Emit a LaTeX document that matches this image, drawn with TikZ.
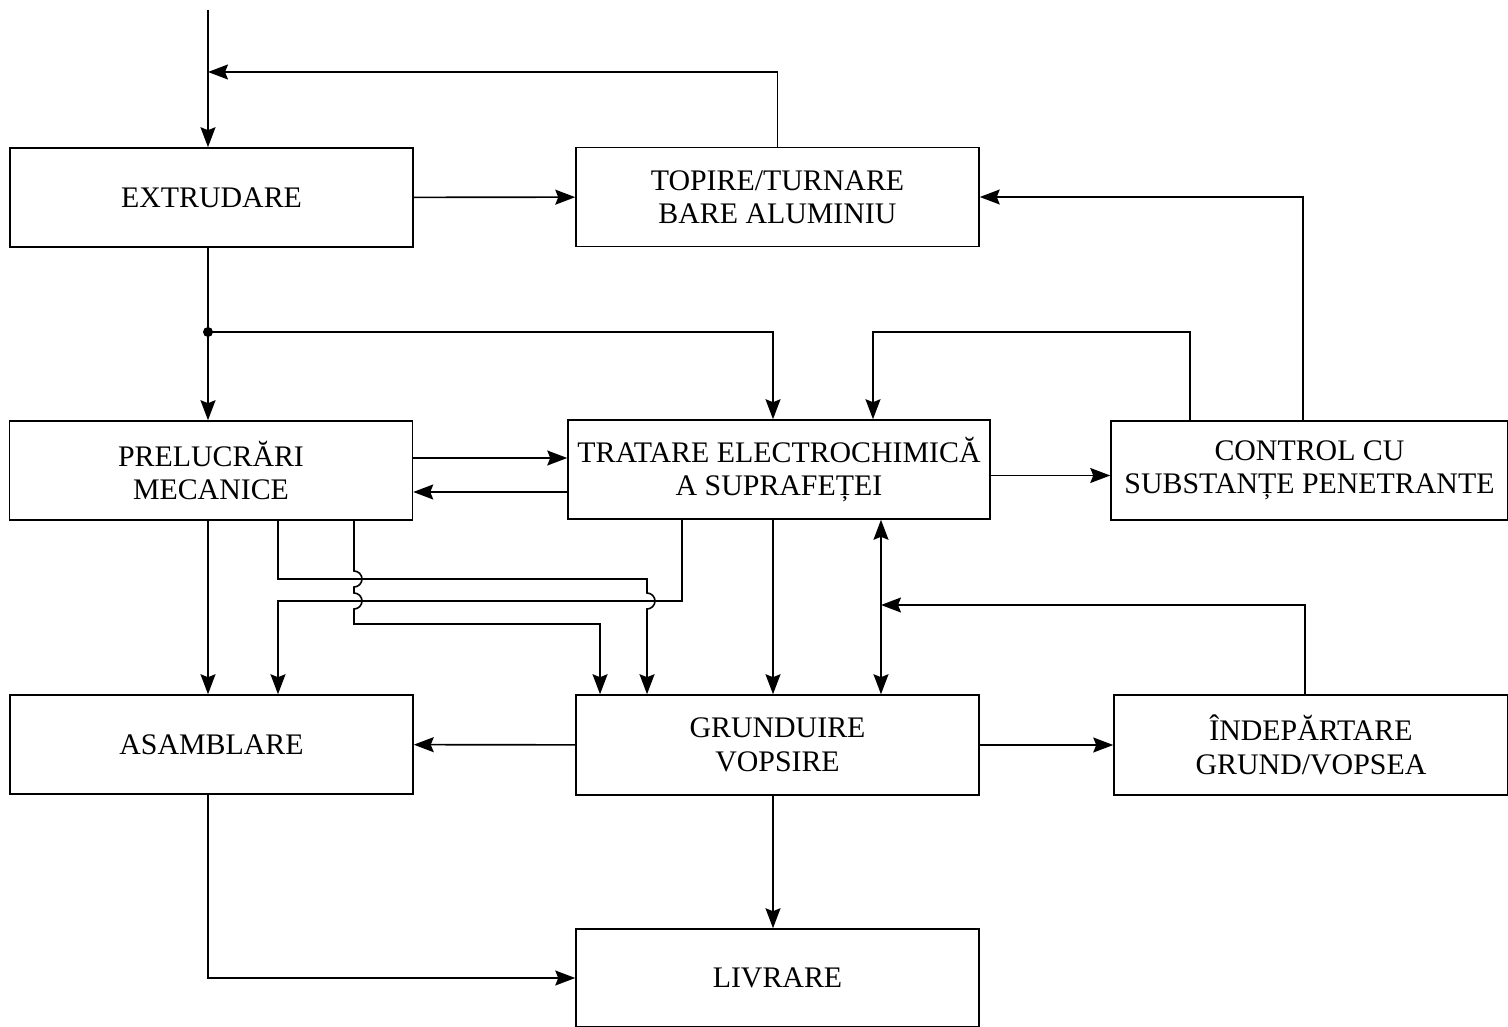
\documentclass[tikz,border=0pt]{standalone}
\usepackage{fontspec}
\setmainfont{Liberation Serif}
\usepackage{tikz}
\usetikzlibrary{arrows.meta,calc}
\tikzset{basic/.style={draw,line width=0.9pt,align=center,
                       font=\fontsize{17}{19}\selectfont,
                       minimum width=8.06cm,minimum height=1.98cm}}
\tikzset{stage/.style={basic,rectangle}}
\tikzset{widestage/.style={basic,rectangle,minimum width=8.44cm}}
\tikzset{link/.style={line width=0.9pt}}
\tikzset{>={Stealth[length=0.4cm,width=0.3cm,inset=0.06cm]}}

\begin{document}
\begin{tikzpicture}[x=0.02cm,y=-0.02cm]
    \useasboundingbox (0,0) rectangle (1508,1027);
    % Stages
    \node[stage] (extrudare) at (211.5,197.5) {EXTRUDARE};
    \node[stage] (topire) at (777.5,197) {TOPIRE/TURNARE\\BARE ALUMINIU};
    \node[stage] (prelucrari) at (211,470.5) {PRELUCRĂRI\\MECANICE};
    \node[widestage] (tratare) at (779,469.5) {TRATARE ELECTROCHIMICĂ\\A SUPRAFEȚEI};
    \node[stage,minimum width=7.94cm] (control) at (1309.5,470.5) {CONTROL CU\\SUBSTANȚE PENETRANTE};
    \node[stage] (asamblare) at (211.5,744.5) {ASAMBLARE};
    \node[stage,minimum height=2cm] (grunduire) at (777.5,745) {GRUNDUIRE\\VOPSIRE};
    \node[stage,minimum width=7.88cm,minimum height=2cm] (indepartare) at (1311,745) {ÎNDEPĂRTARE\\GRUND/VOPSEA};
    \node[stage,minimum height=1.96cm] (livrare) at (777.5,978) {LIVRARE};

    \coordinate (in) at (208,10);
    \coordinate (back) at (208,72);
    \coordinate (split) at (208,332);
    \coordinate (join) at (881,605);

    % Top part
    \draw[link,->] (in) -- (in |- extrudare.north);
    \draw[link,->] (topire.north) |- (back);
    \draw[link,->] (extrudare) -- (topire);
    \draw[link,->] (in |- extrudare.south) -- (in |- prelucrari.north);
    \fill (split) circle[radius=0.1cm];
    \draw[link,->] (split) -| ([xshift=-0.12cm]tratare.north);
    \draw[link,->] ([xshift=-2.39cm]control.north) -- ++(0,-88)
                   -| ([xshift=1.88cm]tratare.north);
    \draw[link,->] ([xshift=-0.13cm]control.north) |- (topire.east);

    % Middle row
    \draw[link,->] ([yshift=0.25cm]prelucrari.east) -- ([yshift=0.25cm]prelucrari.east -| tratare.west);
    \draw[link,->] ([yshift=-0.45cm]tratare.west) -- ([yshift=-0.45cm]tratare.west -| prelucrari.east);
    \draw[link,->] ([yshift=-0.12cm]tratare.east) -- ([yshift=-0.12cm]tratare.east -| control.west);

    % Crossing lines with hops
    \draw[link,->] (in |- prelucrari.south) -- (in |- asamblare.north);
    \draw[link,->] ([xshift=1.34cm]prelucrari.south) -- (278,579) -- (647,579)
                   -- (647,593) arc[start angle=90,end angle=-90,radius=0.16cm]
                   -- ([xshift=-2.61cm]grunduire.north);
    \draw[link,->] ([xshift=2.86cm]prelucrari.south) -- (354,571)
                   arc[start angle=90,end angle=-90,radius=0.16cm] -- (354,593)
                   arc[start angle=90,end angle=-90,radius=0.16cm] -- (354,624)
                   -- (600,624) -- ([xshift=-3.55cm]grunduire.north);
    \draw[link,->] ([xshift=-1.94cm]tratare.south) -- (682,601) -- (278,601)
                   -- ([xshift=1.33cm]asamblare.north);
    \draw[link,->] ([xshift=-0.12cm]tratare.south) -- ([xshift=-0.12cm]tratare.south |- grunduire.north);
    \draw[link,<->] ([xshift=2.04cm]tratare.south) -- ([xshift=2.04cm]tratare.south |- grunduire.north);
    \draw[link,->] ([xshift=-0.12cm]indepartare.north) |- (join);

    % Bottom part
    \draw[link,->] (grunduire) -- (indepartare);
    \draw[link,->] (grunduire) -- (asamblare);
    \draw[link,->] ([xshift=-0.09cm]grunduire.south) -- ([xshift=-0.09cm]grunduire.south |- livrare.north);
    \draw[link,->] (in |- asamblare.south) |- (livrare.west);
\end{tikzpicture}
\end{document}
